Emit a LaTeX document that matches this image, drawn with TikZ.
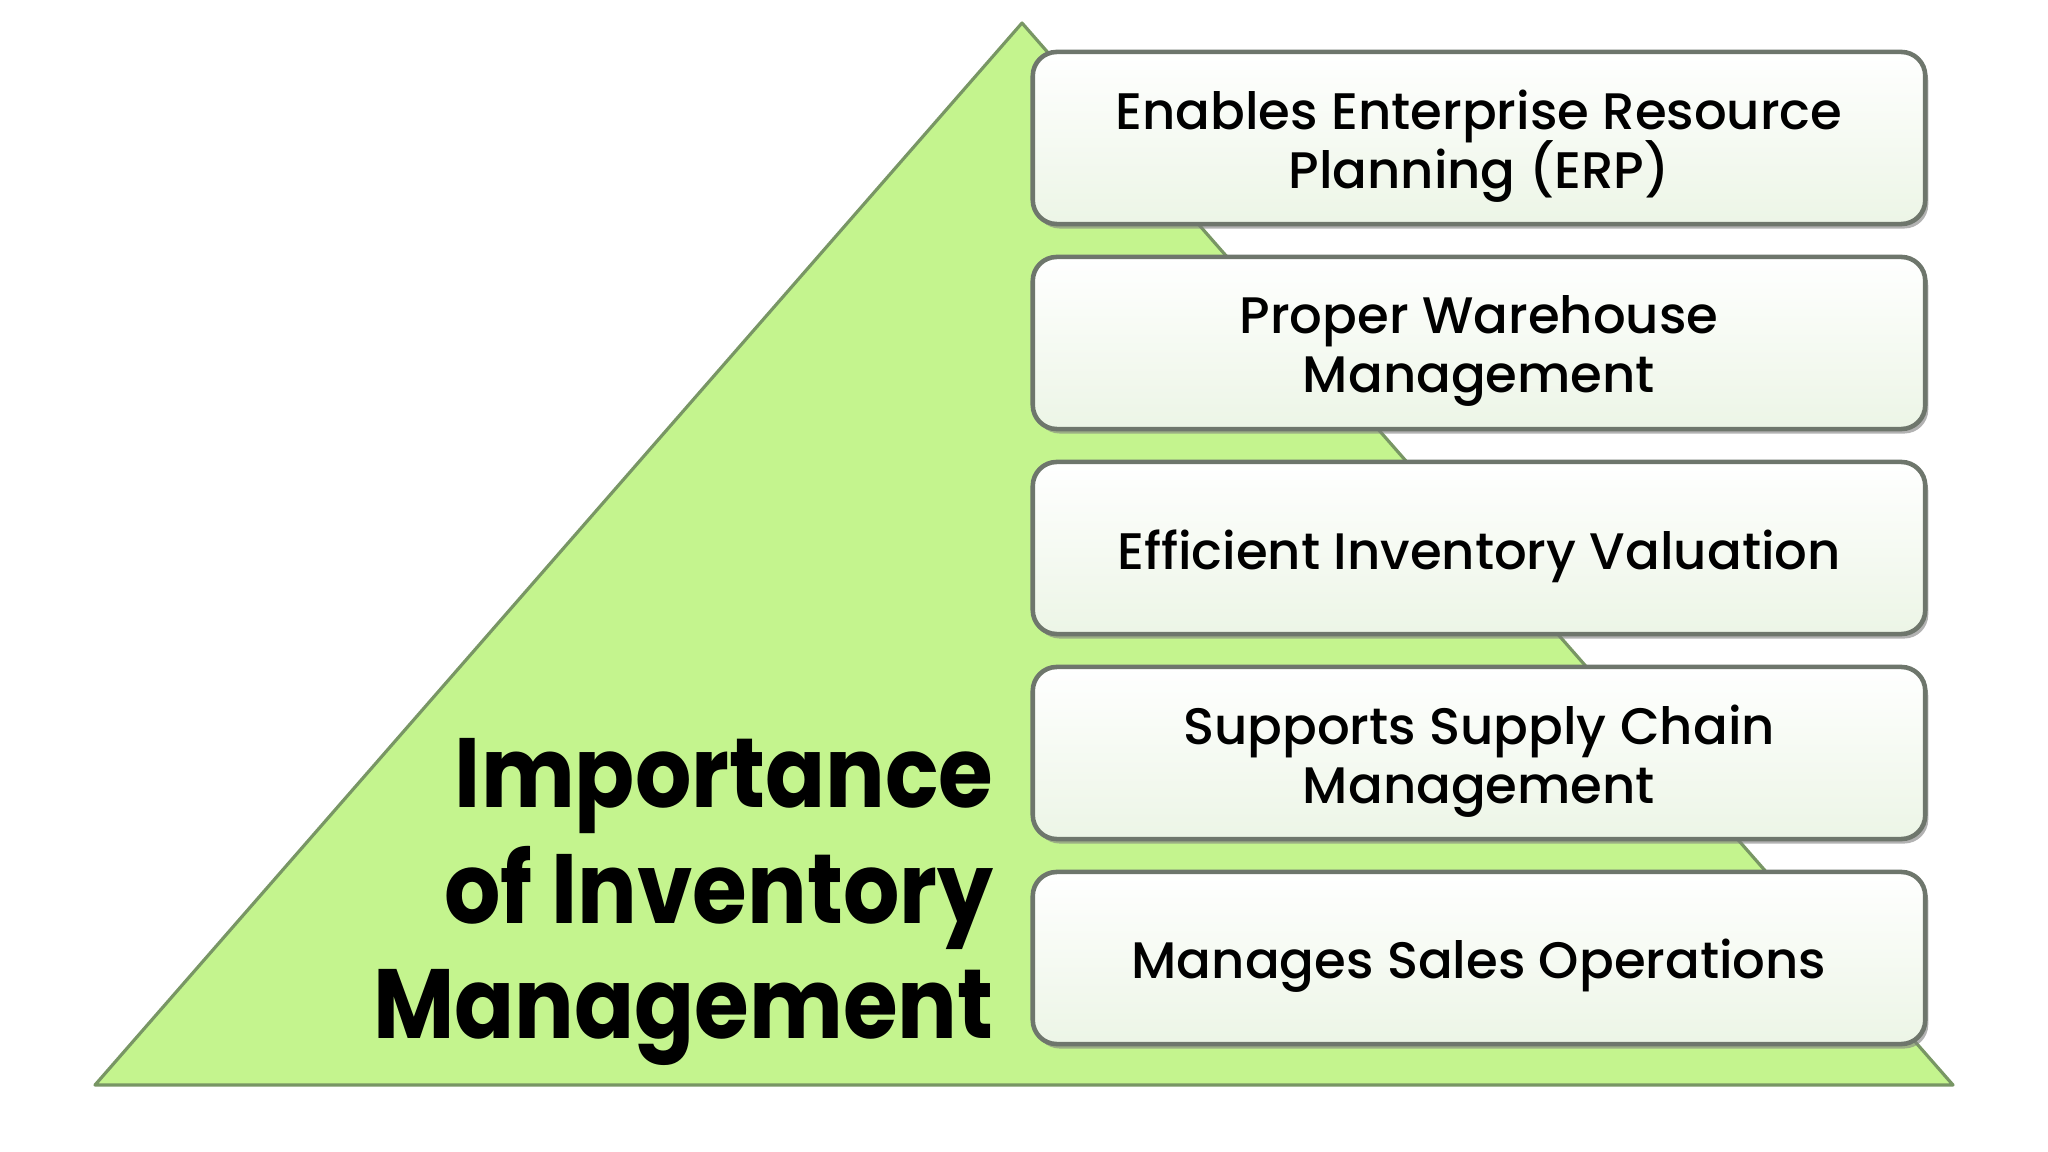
\documentclass[tikz,border=0pt]{standalone}
\usepackage{fontspec}
\setmainfont{Poppins}
\newfontfamily\boxfont{Poppins Medium}
\newfontfamily\titlefont[FakeStretch=0.9]{Poppins Bold}
\newcommand\tightlines{\setlength{\lineskiplimit}{-20pt}\setlength{\lineskip}{0pt}}
\usetikzlibrary{shadows}
\definecolor{tri}{RGB}{196,244,142}
\definecolor{triedge}{RGB}{120,150,100}
\definecolor{boxedge}{RGB}{110,118,108}
\definecolor{boxbot}{RGB}{236,245,230}
\tikzset{
  itembox/.style={rectangle, rounded corners=0.24cm, draw=boxedge, line width=1.3pt,
    top color=white, bottom color=boxbot, minimum width=8.92cm, minimum height=1.72cm,
    drop shadow={shadow xshift=0.03cm, shadow yshift=-0.045cm, fill=black!50, opacity=0.6}},
  itemtext/.style={align=center, font=\boxfont\fontsize{14.6}{16.9}\selectfont\tightlines, text=black},
  titletext/.style={anchor=east, align=right, font=\titlefont\fontsize{28}{32.8}\selectfont\tightlines, text=black}
}
\begin{document}
\begin{tikzpicture}[x=0.01cm,y=-0.01cm]
\useasboundingbox (0,0) rectangle (2048,1152);
\fill[white] (0,0) rectangle (2048,1152);
\draw[fill=tri, draw=triedge, line width=0.9pt, line join=round] (95,1085) -- (1022,23) -- (1953,1085) -- cycle;
\node[itembox] (b1) at (1479,138) {};
\node[itembox] (b2) at (1479,343) {};
\node[itembox] (b3) at (1479,548) {};
\node[itembox] (b4) at (1479,753) {};
\node[itembox] (b5) at (1479,958) {};
\node[itemtext] (t1) at ([yshift=-0.08cm]b1.center) {Enables Enterprise Resource\\Planning (ERP)};
\node[itemtext] (t2) at ([yshift=-0.08cm]b2.center) {Proper Warehouse\\Management};
\node[itemtext] (t3) at ([yshift=-0.08cm]b3.center) {Efficient Inventory Valuation};
\node[itemtext] (t4) at ([yshift=-0.08cm]b4.center) {Supports Supply Chain\\Management};
\node[itemtext] (t5) at ([yshift=-0.08cm]b5.center) {Manages Sales Operations};
\node[titletext] (t) at (1006,902) {Importance\\of Inventory\\Management};
\end{tikzpicture}
\end{document}
